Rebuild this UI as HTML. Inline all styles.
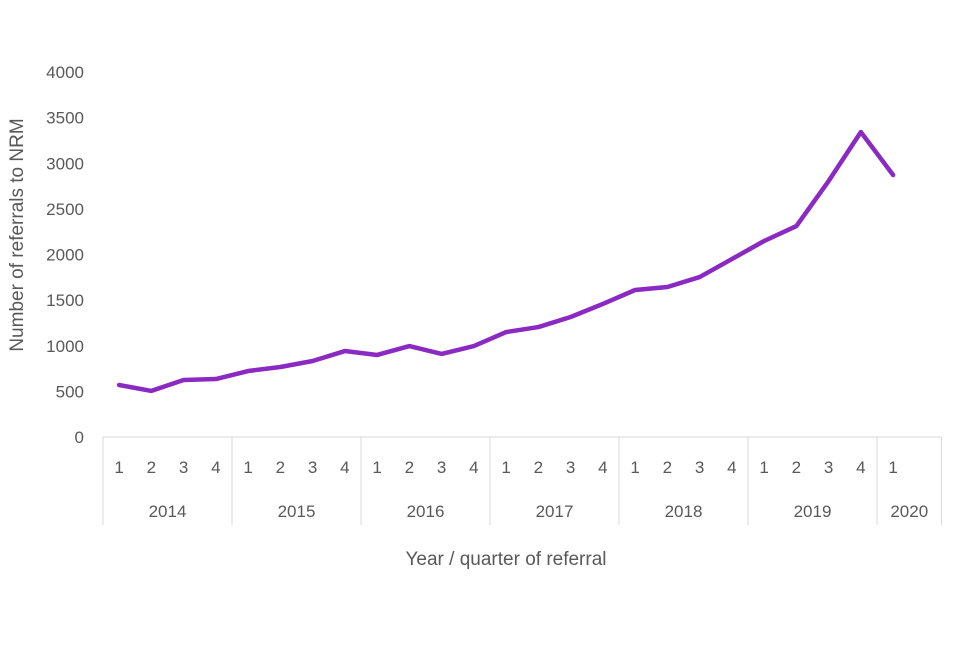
<!DOCTYPE html>
<html><head><meta charset="utf-8"><style>
body{margin:0;background:#fff;font-family:"Liberation Sans",sans-serif}
svg text{fill:#595959;font-family:"Liberation Sans",sans-serif}
</style></head><body>
<svg id="chart" width="960" height="640">
<g id="grid"></g><g id="axes"></g><g id="series"></g>
<text x="506" y="565" font-size="19" text-anchor="middle">Year / quarter of referral</text>
<text transform="translate(23,235) rotate(-90)" font-size="19" text-anchor="middle">Number of referrals to NRM</text>
</svg>
<script>
const years=["2014","2015","2016","2017","2018","2019","2020"];
const quarters=[4,4,4,4,4,4,1];
const values=[570,505,625,635,723,767,833,942,899,997,910,997,1150,1205,1315,1458,1611,1644,1753,1950,2148,2312,2805,3342,2871];
const yTicks=[0,500,1000,1500,2000,2500,3000,3500,4000];
const NS="http://www.w3.org/2000/svg";
const x0=103,slot=32.25,y0=437,yMax=4000,yTop=72;
const X=i=>x0+slot*(i+0.5);
const Y=v=>y0-(v/yMax)*(y0-yTop);
function mk(tag,attrs,parent,txt){const e=document.createElementNS(NS,tag);for(const k in attrs)e.setAttribute(k,attrs[k]);if(txt!==undefined)e.textContent=txt;parent.appendChild(e);return e;}
const axes=document.getElementById('axes');
yTicks.forEach(t=>{const e=mk('text',{x:84,y:Y(t)+6,'font-size':17,'text-anchor':'end'},axes,String(t));

});
const xEnd=x0+slot*26;
const base=mk('line',{x1:x0,y1:y0,x2:xEnd,y2:y0,stroke:'#d9d9d9','stroke-width':1},axes);


let idx=0;
const bounds=[x0];
years.forEach((yr,yi)=>{
  const start=idx;
  for(let q=1;q<=quarters[yi];q++){const e=mk('text',{x:X(idx),y:473,'font-size':17,'text-anchor':'middle'},axes,String(q));
  
  idx++;}
  const endSlot=(yi===years.length-1)?26:idx;
  const xs=x0+slot*start,xe=x0+slot*endSlot;
  const t=mk('text',{x:(xs+xe)/2,y:517,'font-size':17,'text-anchor':'middle'},axes,yr);
  
  
  bounds.push(xe);
});
bounds.forEach(b=>{const l=mk('line',{x1:b,y1:y0,x2:b,y2:525,stroke:'#d9d9d9','stroke-width':1},axes);

});
const pts=values.map((v,i)=>X(i)+','+Y(v)).join(' ');
const pl=mk('polyline',{points:pts,fill:'none',stroke:'#8a2ac2','stroke-width':4.5,'stroke-linejoin':'round','stroke-linecap':'round'},document.getElementById('series'));


</script>
</body></html>
